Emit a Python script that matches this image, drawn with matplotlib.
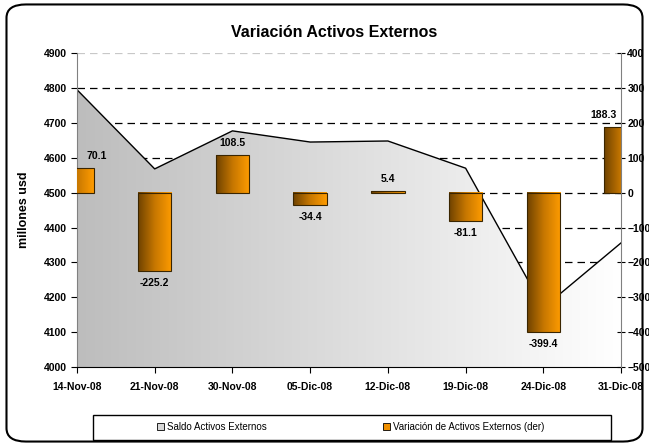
import matplotlib.pyplot as plt
import numpy as np
from matplotlib.colors import LinearSegmentedColormap
from matplotlib.patches import FancyBboxPatch, Patch, Rectangle

plt.rcParams['font.family'] = ['Liberation Sans', 'DejaVu Sans']

fechas = ["14-Nov-08", "21-Nov-08", "30-Nov-08", "05-Dic-08",
          "12-Dic-08", "19-Dic-08", "24-Dic-08", "31-Dic-08"]
saldo = [4795, 4568, 4677, 4645, 4648, 4570, 4170, 4356]
variacion = [70.1, -225.2, 108.5, -34.4, 5.4, -81.1, -399.4, 188.3]

x = np.arange(len(fechas))
gris = LinearSegmentedColormap.from_list("gris", ["#bdbdbd", "#ffffff"])
naranja = LinearSegmentedColormap.from_list("nar", ["#6e4200", "#c77700", "#ff9c00"])
grad = np.linspace(0, 1, 256).reshape(1, -1)

fig = plt.figure(figsize=(6.49, 4.46), dpi=100)
ax = fig.add_axes([0.1186, 0.177, 0.8384, 0.704])
ax2 = ax.twinx()

# grid behind the area
for v in range(4100, 4901, 100):
    ax.axhline(v, color="#c8c8c8" if v == 4900 else "black", lw=0.9,
               dashes=(6, 4), zorder=0)

# area with horizontal gradient
poly = ax.fill_between(x, saldo, 4000, facecolor="none", edgecolor="none", zorder=1)
img = ax.imshow(grad, cmap=gris, aspect="auto", extent=[x[0], x[-1], 4000, 4900],
                zorder=1, interpolation="bicubic")
img.set_clip_path(poly.get_paths()[0], transform=ax.transData)
ax.plot(x, saldo, color="black", lw=1, zorder=2)

ax.set_xlim(x[0], x[-1])
ax.set_ylim(4000, 4900)
ax.set_yticks(range(4000, 4901, 100))
ax.set_xticks(x)
ax.set_xticklabels(fechas)

# bars with gradient (images clipped to the axes like the bars)
w = 0.43
bars = ax2.bar(x, variacion, width=w, facecolor="none", edgecolor="#3a2500", lw=0.8, zorder=3)
for b in bars:
    x0, y0 = b.get_x(), b.get_y()
    ax2.imshow(grad, cmap=naranja, aspect="auto",
               extent=[x0, x0 + b.get_width(), y0, y0 + b.get_height()],
               zorder=2, interpolation="bicubic")
ax2.set_xlim(x[0], x[-1])
ax2.set_ylim(-500, 400)
ax2.set_yticks(range(-500, 401, 100))

dx = [0.26, 0, 0, 0, 0, 0, 0, -0.23]
for xi, v, d in zip(x, variacion, dx):
    off = 5 if v >= 0 else -5
    ax2.annotate(f"{v:.1f}", (xi + d, v), xytext=(0, off), textcoords="offset points",
                 ha="center", va="bottom" if v >= 0 else "top",
                 fontsize=7.5, fontweight="bold")

for a in (ax, ax2):
    a.spines["top"].set_visible(False)
    for t in a.get_yticklabels() + a.get_xticklabels():
        t.set_fontweight("bold")
        t.set_fontsize(7.5)
ax.spines["left"].set_color("#808080")
ax.spines["right"].set_visible(False)
ax2.spines["left"].set_visible(False)
ax2.spines["right"].set_color("#808080")
ax2.spines["bottom"].set_visible(False)
ax.tick_params(axis="x", direction="out", length=4, pad=7)
ax.tick_params(axis="y", direction="out", length=4)
ax2.tick_params(axis="y", direction="inout", length=6, pad=1.5)

ax.set_ylabel("millones usd", fontsize=9, fontweight="bold", labelpad=10)
fig.text(0.515, 0.928, "Variación Activos Externos", ha="center", va="center",
         fontsize=11.5, fontweight="bold")

# legend box drawn separately, entries spread inside it
fig.patches.append(Rectangle((0.1433, 0.0135), 0.798, 0.056, transform=fig.transFigure,
                             facecolor="white", edgecolor="black", lw=1))
handles = [Patch(facecolor="#d8d8d8", edgecolor="black", lw=0.6, label="Saldo Activos Externos"),
           Patch(facecolor="#f09000", edgecolor="black", lw=0.6,
                 label="Variación de Activos Externos (der)")]
fig.legend(handles=handles, loc="center", bbox_to_anchor=(0.54, 0.0437), ncol=2,
           fontsize=7, frameon=False,
           handlelength=0.7, handleheight=0.7, handletextpad=0.3,
           columnspacing=12)

fig.patches.append(FancyBboxPatch((0.01, 0.01), 0.98, 0.98, boxstyle="round,pad=0,rounding_size=0.03",
                                  transform=fig.transFigure, facecolor="none",
                                  edgecolor="black", lw=1.5))
fig.savefig("out.png", dpi=100)
